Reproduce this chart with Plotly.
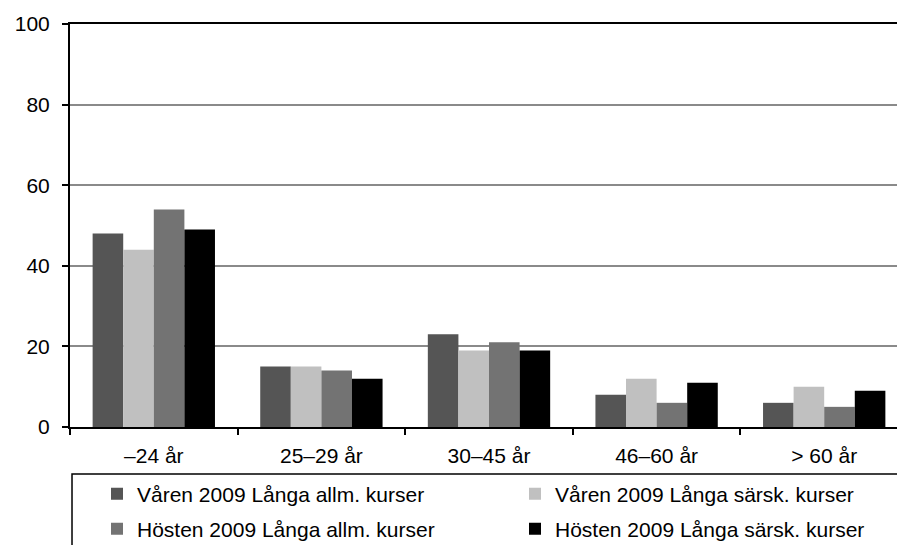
import plotly.graph_objects as go

categories = ['–24 år', '25–29 år', '30–45 år', '46–60 år', '> 60 år']
varen_allm = [48, 15, 23, 8, 6]
varen_sarsk = [44, 15, 19, 12, 10]
hosten_allm = [54, 14, 21, 6, 5]
hosten_sarsk = [49, 12, 19, 11, 9]

series = [
    ('Våren 2009 Långa allm. kurser', varen_allm, '#555555'),
    ('Våren 2009 Långa särsk. kurser', varen_sarsk, '#c0c0c0'),
    ('Hösten 2009 Långa allm. kurser', hosten_allm, '#737373'),
    ('Hösten 2009 Långa särsk. kurser', hosten_sarsk, '#000000'),
]

# en legend per post: 2 kolumner x 2 rader
legend_ids = ['legend', 'legend2', 'legend3', 'legend4']
legend_pos = [(89, 486), (507, 486), (89, 521), (507, 521)]

fig = go.Figure()
for (name, vals, color), leg in zip(series, legend_ids):
    fig.add_trace(go.Bar(
        x=categories,
        y=vals,
        name=name,
        marker=dict(color=color, line=dict(width=0)),
        legend=leg,
        showlegend=True,
    ))

W, H = 905, 545
font = dict(family='Liberation Sans, Arial, sans-serif', size=21, color='black')

legends = {}
for leg, (px, py) in zip(legend_ids, legend_pos):
    legends[leg] = dict(
        orientation='h',
        xref='container', yref='container',
        xanchor='left', yanchor='middle',
        x=px / W, y=1 - py / H,
        itemwidth=30,
        font=font,
        bgcolor='rgba(0,0,0,0)',
    )

fig.update_layout(
    width=W,
    height=H,
    margin=dict(l=62, r=5, t=16, b=126),
    paper_bgcolor='white',
    plot_bgcolor='white',
    font=font,
    showlegend=True,
    barmode='group',
    bargap=0.27,
    bargroupgap=0,
    xaxis=dict(
        automargin=False,
        showline=True,
        linecolor='black',
        linewidth=2,
        mirror=True,
        ticks='outside',
        tickson='boundaries',
        ticklen=6,
        tickwidth=2,
        tickcolor='black',
        ticklabelstandoff=9,
        showgrid=False,
        tickfont=font,
    ),
    yaxis=dict(
        automargin=False,
        range=[0, 100],
        dtick=20,
        showline=True,
        linecolor='black',
        linewidth=2,
        ticks='outside',
        ticklen=6,
        tickwidth=2,
        tickcolor='black',
        ticklabelstandoff=8,
        showgrid=True,
        gridcolor='#8a8a8a',
        gridwidth=1.5,
        zeroline=False,
        tickfont=font,
    ),
    shapes=[dict(
        type='rect', xref='paper', yref='paper',
        x0=0.0024, x1=1.05, y0=-0.5, y1=-0.1166,
        line=dict(color='black', width=1.5),
    )],
    **legends,
)

fig.write_html('out.html')
